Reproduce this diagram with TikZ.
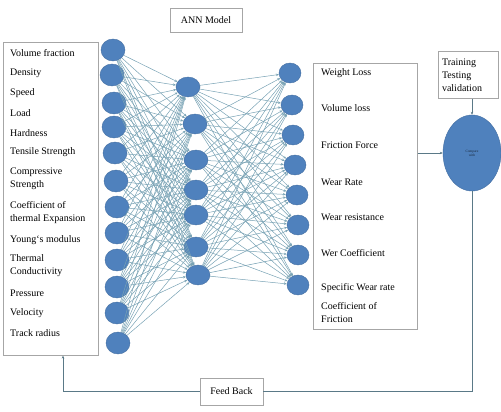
\documentclass[tikz,border=0pt]{standalone}
\usepackage{fontspec}
\setmainfont{Liberation Serif}
\usetikzlibrary{shapes.geometric,arrows.meta}
\definecolor{nodeblu}{HTML}{4F81BD}
\definecolor{linkblu}{HTML}{78A2B4}
\definecolor{boxgray}{HTML}{A6A6A6}
\begin{document}
\begin{tikzpicture}[x=1pt,y=-1pt,
        every node/.style={font=\fontsize{10}{13}\selectfont},
        neuron/.style={ellipse, fill=nodeblu, draw=nodeblu!85!black, thin, inner sep=0pt},
        link/.style={linkblu, line width=0.5pt, -{Stealth[length=3pt,width=2.5pt]}},
        labelbox/.style={draw=boxgray, line width=0.6pt, fill=white, inner sep=0pt},
        flow/.style={linkblu!75!black, line width=0.6pt}]
        \useasboundingbox (0,0) rectangle (501,412);

        % Riquadri dei parametri (ingresso e uscita)
        \node[labelbox, anchor=north west, minimum width=95pt, minimum height=313pt] (inbox) at (3,42) {};
        \node[labelbox, anchor=north west, minimum width=104pt, minimum height=266pt] (outbox) at (313,63) {};
        \node[labelbox, minimum width=72pt, minimum height=24pt] (ann) at (206,20) {ANN Model};

        % Etichette di ingresso
        \foreach \n/\y/\txt in {
                1/53/Volume fraction,
                2/73/Density,
                3/93/Speed,
                4/113/Load,
                5/133/Hardness,
                6/152/Tensile Strength,
                7/179/Compressive\\Strength,
                8/212.5/Coefficient of\\thermal Expansion,
                9/240/Young`s modulus,
                10/265.5/Thermal\\Conductivity,
                11/293/Pressure,
                12/313/Velocity,
                13/333/Track radius}{
                \node[anchor=west, align=left, inner sep=0pt] (inlab\n) at (10,\y) {\txt};
            }

        % Etichette di uscita
        \foreach \n/\y/\txt in {
                1/73/Weight Loss,
                2/108/Volume loss,
                3/145/Friction Force,
                4/182/Wear Rate,
                5/217/Wear resistance,
                6/253/Wer Coefficient,
                7/288/Specific Wear rate,
                8/312.5/Coefficient of\\Friction}{
                \node[anchor=west, align=left, inner sep=0pt] (outlab\n) at (321,\y) {\txt};
            }

        % Neuroni: ingresso, nascosto, uscita
        \foreach \n/\x/\y in {1/113/50, 2/112/75, 3/114/103, 4/114/127, 5/115/153, 6/116/181,
                7/117/207, 8/117/233, 9/117/260, 10/117/287, 11/117/313, 12/118/343}{
                \node[neuron, minimum width=24pt, minimum height=22pt] (i\n) at (\x,\y) {};
            }
        \foreach \n/\x/\y in {1/188/87, 2/195/124, 3/196/160, 4/196/190, 5/196/215, 6/196/247, 7/198/275}{
                \node[neuron, minimum width=24pt, minimum height=20pt] (h\n) at (\x,\y) {};
            }
        \foreach \n/\x/\y in {1/290/73, 2/292/105, 3/293/135, 4/295/165, 5/297/195, 6/298/225, 7/298/255, 8/298/285}{
                \node[neuron, minimum width=22pt, minimum height=20pt] (o\n) at (\x,\y) {};
            }

        % Collegamenti tra gli strati
        \foreach \a in {1,...,12}{
                \foreach \b in {1,...,7}{
                        \draw[link] (i\a) -- (h\b);
                    }
            }
        \foreach \a in {1,...,7}{
                \foreach \b in {1,...,8}{
                        \draw[link] (h\a) -- (o\b);
                    }
            }

        % Confronto e retroazione
        \node[neuron, minimum width=58pt, minimum height=76pt,
            font=\fontsize{3.5}{4}\selectfont, text=nodeblu!30!black, align=center] (cmp) at (472,153) {Compare\\with};
        \node[labelbox, align=left, anchor=north, minimum width=60pt, minimum height=47pt,
            text width=52pt] (train) at (468,51) {Training\\Testing\\validation};
        \node[labelbox, minimum width=63pt, minimum height=27pt] (fb) at (231.5,391.5) {Feed Back};
        \coordinate (fbturn) at (63,391.5);

        \draw[flow, -{Stealth[length=3pt,width=2.5pt]}] (outbox.east |- cmp.west) -- (cmp.west);
        \draw[flow, -{Stealth[length=3pt,width=2.5pt]}] (train.south -| cmp.north) -- (cmp.north);
        \draw[flow] (cmp.south) -- (cmp.south |- fb.east) -- (fb.east);
        \draw[flow, -{Stealth[length=3pt,width=2.5pt]}] (fb.west) -- (fbturn) -- (fbturn |- inbox.south);
    \end{tikzpicture}
\end{document}
